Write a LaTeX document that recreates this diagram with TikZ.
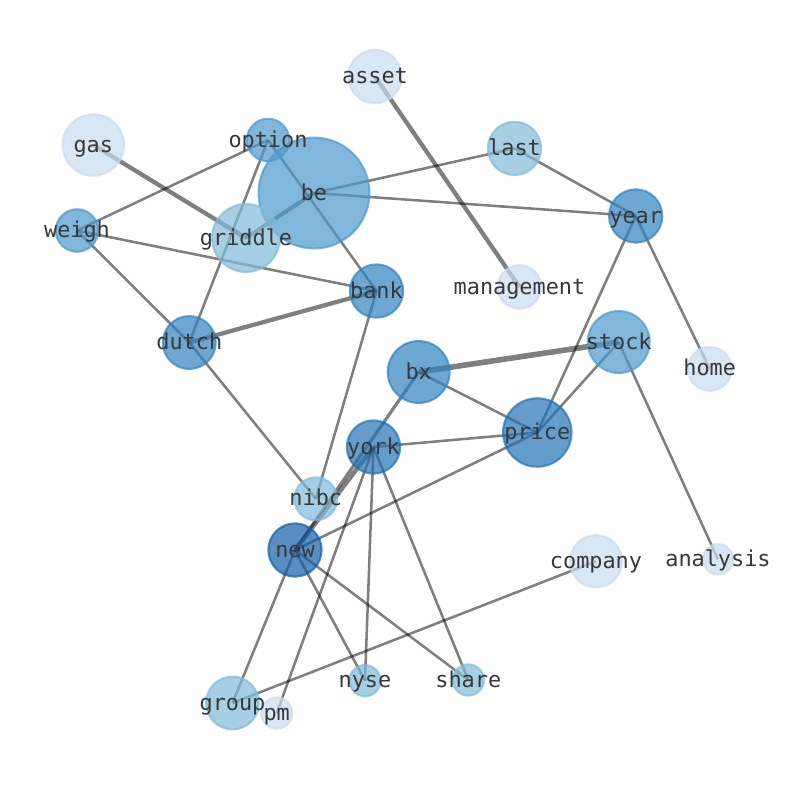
\documentclass[tikz,border=0pt]{standalone}
\usepackage{fontspec}
\setmonofont{DejaVu Sans Mono}
\definecolor{cA}{HTML}{C9DBEE}
\definecolor{cB}{HTML}{80BBD9}
\definecolor{cC}{HTML}{4C99CC}
\definecolor{cD}{HTML}{3183BF}
\definecolor{cE}{HTML}{2272B6}
\definecolor{cF}{HTML}{135EA9}
\tikzset{
  edge/.style={draw=black, draw opacity=0.5, line width=1.9pt},
  thick1/.style={edge, line width=3pt},
  thick2/.style={edge, line width=3.2pt},
  dot/.style={circle, inner sep=0pt, fill opacity=0.7, draw opacity=0.7, line width=1.6pt},
  lbl/.style={font=\ttfamily\fontsize{16.4}{18}\selectfont, text=black!78, inner sep=0pt, anchor=base}
}
\newcommand{\vtx}[5]{% name, x, y, diameter(px), color
  \node[dot, fill=#5, draw=#5, minimum size=#4*0.75pt-1.6pt] (#1) at (#2,#3) {};
}
\newcommand{\vlbl}[2]{%
  \node[lbl] (#1l) at ([yshift=-5.3pt]#1.center) {#2};
}
\begin{document}
\begin{tikzpicture}[x=0.75pt,y=-0.75pt]
\useasboundingbox (0,0) rectangle (794,790);
% positions
\coordinate (asset) at (375,76.5);
\coordinate (gas) at (93.3,145);
\coordinate (option) at (268,140);
\coordinate (be) at (314,193);
\coordinate (last) at (514.5,148.4);
\coordinate (griddle) at (246,238);
\coordinate (weigh) at (77,230.5);
\coordinate (year) at (635.7,216);
\coordinate (management) at (519.5,287);
\coordinate (bank) at (376.5,291);
\coordinate (dutch) at (189.3,342.5);
\coordinate (stock) at (618.7,342);
\coordinate (bx) at (418.7,372);
\coordinate (home) at (709.7,368.8);
\coordinate (price) at (537.3,432.5);
\coordinate (york) at (373.5,447);
\coordinate (nibc) at (315.8,498.8);
\coordinate (new) at (295,550);
\coordinate (company) at (596,561.3);
\coordinate (analysis) at (718,559.3);
\coordinate (group) at (232.5,703);
\coordinate (pm) at (276.7,713);
\coordinate (nyse) at (365,680.7);
\coordinate (share) at (468.3,680);
% edges
\draw[thick2] (gas) -- (griddle);
\draw[thick2] (asset) -- (management);
\draw[edge] (option) -- (weigh);
\draw[edge] (option) -- (dutch);
\draw[edge] (option) -- (bank);
\draw[thick1] (be) -- (griddle);
\draw[edge] (be) -- (last);
\draw[edge] (be) -- (year);
\draw[edge] (weigh) -- (bank);
\draw[edge] (weigh) -- (dutch);
\draw[edge] (last) -- (year);
\draw[edge] (year) -- (price);
\draw[edge] (year) -- (home);
\draw[thick2] (dutch) -- (bank);
\draw[edge] (dutch) -- (nibc);
\draw[edge] (bank) -- (nibc);
\draw[edge, line width=4.2pt] (bx) -- (stock);
\draw[edge] (bx) -- (price);
\draw[edge, line width=2.4pt] (bx) -- (new);
\draw[edge, line width=3.4pt] (york) -- (new);
\draw[edge] (york) -- (price);
\draw[edge] (york) -- (nyse);
\draw[edge] (york) -- (share);
\draw[edge] (york) -- (pm);
\draw[edge] (price) -- (stock);
\draw[edge] (price) -- (new);
\draw[edge] (stock) -- (analysis);
\draw[edge] (new) -- (group);
\draw[edge] (new) -- (nyse);
\draw[edge] (new) -- (share);
\draw[edge] (company) -- (group);
% nodes
\vtx{asset}{375}{76.5}{55.6}{cA}
\vtx{gas}{93.3}{145}{63.4}{cA}
\vtx{option}{268}{140}{44.6}{cC}
\vtx{be}{314}{193}{113}{cC}
\vtx{last}{514.5}{148.4}{55.4}{cB}
\vtx{griddle}{246}{238}{70}{cB}
\vtx{weigh}{77}{230.5}{44.6}{cC}
\vtx{year}{635.7}{216}{55.4}{cD}
\vtx{management}{519.5}{287}{45.6}{cA}
\vtx{bank}{376.5}{291}{55.4}{cD}
\vtx{dutch}{189.3}{342.5}{55}{cD}
\vtx{stock}{618.7}{342}{64}{cC}
\vtx{bx}{418.7}{372}{64}{cD}
\vtx{home}{709.7}{368.8}{46}{cA}
\vtx{price}{537.3}{432.5}{70.6}{cE}
\vtx{york}{373.5}{447}{55.4}{cE}
\vtx{nibc}{315.8}{498.8}{45}{cB}
\vtx{new}{295}{550}{55.4}{cF}
\vtx{company}{596}{561.3}{54.4}{cA}
\vtx{analysis}{718}{559.3}{32.4}{cA}
\vtx{group}{232.5}{703}{55}{cB}
\vtx{pm}{276.7}{713}{33.4}{cA}
\vtx{nyse}{365}{680.7}{33.4}{cB}
\vtx{share}{468.3}{680}{33.4}{cB}
% labels
\vlbl{asset}{asset}
\vlbl{gas}{gas}
\vlbl{option}{option}
\vlbl{be}{be}
\vlbl{last}{last}
\vlbl{griddle}{griddle}
\vlbl{weigh}{weigh}
\vlbl{year}{year}
\vlbl{management}{management}
\vlbl{bank}{bank}
\vlbl{dutch}{dutch}
\vlbl{stock}{stock}
\vlbl{bx}{bx}
\vlbl{home}{home}
\vlbl{price}{price}
\vlbl{york}{york}
\vlbl{nibc}{nibc}
\vlbl{new}{new}
\vlbl{company}{company}
\vlbl{analysis}{analysis}
\vlbl{group}{group}
\vlbl{pm}{pm}
\vlbl{nyse}{nyse}
\vlbl{share}{share}
\end{tikzpicture}
\end{document}
